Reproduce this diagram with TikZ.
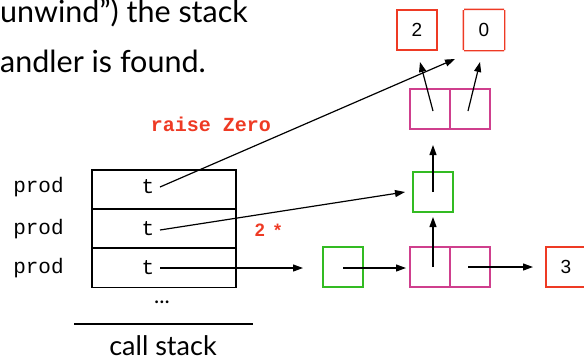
\documentclass[tikz,border=0pt]{standalone}
\usepackage{fontspec}
\setmainfont{Lato}
\newfontfamily\monofont{Liberation Mono}
\newfontfamily\helv{Liberation Sans}
\usetikzlibrary{arrows.meta}
\definecolor{cellred}{HTML}{EE3A24}
\definecolor{cellgreen}{HTML}{33BB22}
\definecolor{cellpink}{HTML}{CF3F8D}
\tikzset{
  cell/.style={line width=1.3pt, minimum width=40pt, minimum height=40pt, inner sep=0pt},
  redcell/.style={cell, draw=cellred},
  greencell/.style={cell, draw=cellgreen},
  pinkcell/.style={cell, draw=cellpink},
  digit/.style={inner sep=0pt, text=black, font=\helv\fontsize{19}{19}\selectfont},
  frame/.style={draw, line width=1.3pt, minimum width=144pt, minimum height=39pt, inner sep=0pt},
  codetext/.style={font=\monofont\fontsize{21}{21}\selectfont, inner sep=0pt},
  redcode/.style={font=\monofont\bfseries\fontsize{20}{20}\selectfont, text=cellred, inner sep=0pt},
  prose/.style={font=\fontsize{30.5}{30.5}\selectfont, inner sep=0pt, anchor=base west},
  ptr/.style={line width=1.2pt, -{Triangle[length=10pt,width=7pt]}}
}
\begin{document}
\begin{tikzpicture}[x=1pt,y=-1pt]
\useasboundingbox (0,0) rectangle (584,360);

% heap cells (frames first, digits on top)
\node[redcell] (rtwo) at (417,30) {};
\node[cell] (rzero) at (484,30) {};
% frame of the zero cell as a filled ring
\fill[cellred, even odd rule]
  ([shift={(-0.65pt,0.65pt)}]rzero.south west) rectangle ([shift={(0.65pt,-0.65pt)}]rzero.north east)
  ([shift={(0.65pt,-0.65pt)}]rzero.south west) rectangle ([shift={(-0.65pt,0.65pt)}]rzero.north east);
\node[pinkcell] (pa) at (430,109) {};
\node[pinkcell] (pb) at (470,109) {};
\node[greencell] (gm) at (433,192) {};
\node[greencell] (gb) at (343,267) {};
\node[pinkcell] (pc) at (430,267) {};
\node[pinkcell] (pd) at (470,267) {};
\node[redcell] (rthree) at (566,267) {};
\node[digit] (dtwo) at (rtwo) {2};
\node[digit] (dzero) at (rzero) {0};
\node[digit] (dthree) at (rthree) {3};

% explanatory prose at the top
\node[prose] (line1) at (0,22) {unwind") the stack};
\node[prose] (line2) at (0,72) {andler is found.};

% call stack frames
\node[frame] (s1) at (164,189.5) {};
\node[frame] (s2) at (164,228.5) {};
\node[frame] (s3) at (164,268) {};
\node[codetext] (t1) at (148,187) {t};
\node[codetext] (t2) at (148,229) {t};
\node[codetext] (t3) at (148,268) {t};
\node[codetext] (p1) at (38.5,187) {prod};
\node[codetext] (p2) at (38.5,229) {prod};
\node[codetext] (p3) at (38.5,268) {prod};
\node[font=\fontsize{22}{22}\selectfont, inner sep=0pt] (dots) at (162,302) {...};
\coordinate (rulel) at (74,324);
\coordinate (ruler) at (253,324);
\draw[line width=1.3pt] (rulel) -- (ruler);
\node[font=\fontsize{27}{27}\selectfont, inner sep=0pt, anchor=base] (cap) at (163,355) {call stack};

% labels on the arrows
\node[redcode] (raise) at (211,124) {raise Zero};
\node[font=\helv\bfseries\fontsize{18}{18}\selectfont, text=cellred, inner sep=0pt] (two) at (268,230) {2\hspace{9pt}*};

% pointer origins and targets
\coordinate (o1) at (160,187);
\coordinate (o2) at (160,230);
\coordinate (o3) at (160,268);
\coordinate (e1) at (455,59);
\coordinate (e2) at (405,192);
\coordinate (e3) at (303,268);
\coordinate (ogb) at (343,268);
\coordinate (egb) at (406,268);
\coordinate (opc) at (433,267);
\coordinate (epc) at (433,217);
\coordinate (opd) at (468,267);
\coordinate (epd) at (533,267);
\coordinate (ogm) at (433,192);
\coordinate (egm) at (433,145);
\coordinate (opa) at (433,111);
\coordinate (epa) at (420,62);
\coordinate (opb) at (468,111);
\coordinate (epb) at (480,62);

\draw[ptr] (o1) -- (e1);
\draw[ptr] (o2) -- (e2);
\draw[ptr] (o3) -- (e3);
\draw[ptr] (ogb) -- (egb);
\draw[ptr] (opc) -- (epc);
\draw[ptr] (opd) -- (epd);
\draw[ptr] (ogm) -- (egm);
\draw[ptr] (opa) -- (epa);
\draw[ptr] (opb) -- (epb);
\end{tikzpicture}
\end{document}
